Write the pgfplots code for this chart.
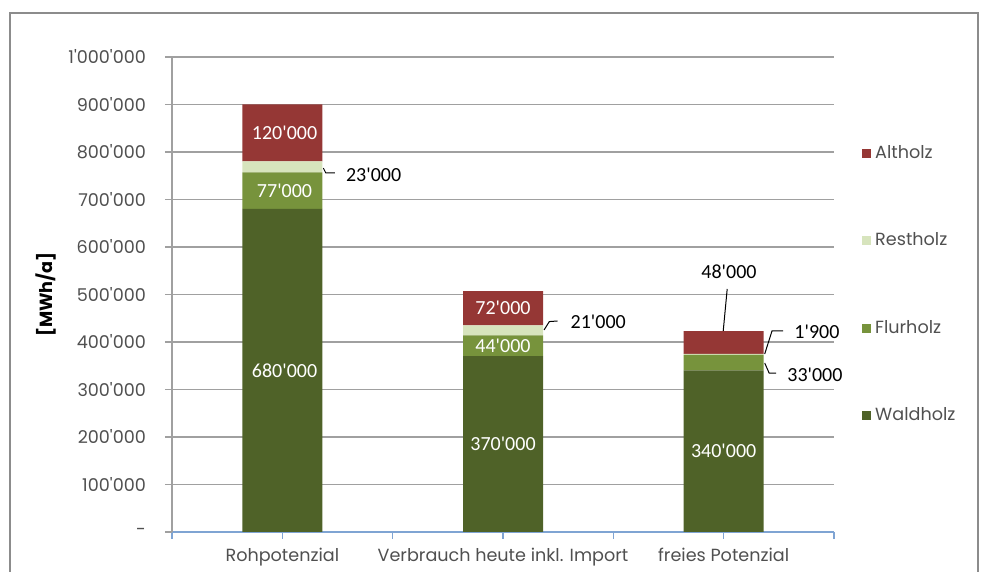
\documentclass[border=0pt]{standalone}
\usepackage{fontspec}
\setmainfont{Poppins}[Ligatures=TeXOff]
\newfontfamily\lblfont{Carlito}[Ligatures=TeXOff]
\usepackage{pgfplots}
\pgfplotsset{compat=1.18}
\definecolor{alt}{HTML}{953735}
\definecolor{rest}{HTML}{D7E4BD}
\definecolor{flur}{HTML}{77933C}
\definecolor{wald}{HTML}{4F6228}
\definecolor{gridgray}{HTML}{A0A0A0}
\definecolor{framegray}{HTML}{8C8C8C}
\definecolor{xblue}{HTML}{7FA4D3}
\definecolor{txtgray}{HTML}{505050}
\newcommand{\tickfont}{\fontsize{8.8}{10}\selectfont}

\begin{document}
\begin{tikzpicture}
\useasboundingbox (0,0) rectangle (490.5pt,286pt);
\draw[framegray, line width=0.6pt] (5pt,-20pt) rectangle (489pt,279.5pt);
\begin{axis}[
  at={(86pt,20pt)}, anchor=south west,
  scale only axis, width=331pt, height=237.5pt,
  xmin=-0.5, xmax=2.5, ymin=0, ymax=1000000,
  ybar stacked, bar width=40pt,
  axis x line*=bottom, axis y line*=left,
  x axis line style={-, draw=xblue, line width=0.8pt},
  y axis line style={-, draw=gridgray, line width=0.7pt},
  tick align=outside, major tick length=3.5pt,
  ytick={0,100000,200000,300000,400000,500000,600000,700000,800000,900000,1000000},
  yticklabels={-,100'000,200'000,300'000,400'000,500'000,600'000,700'000,800'000,900'000,1'000'000},
  scaled y ticks=false,
  ytick style={draw=gridgray, line width=0.7pt},
  yticklabel style={font=\tickfont, text=txtgray, xshift=-6pt},
  ymajorgrids, major grid style={draw=gridgray, line width=0.7pt},
  xtick={-0.5,0.5,1.5,2.5}, xticklabels={,,,},
  xtick style={draw=xblue, line width=0.7pt},
  extra x ticks={0,1,2},
  extra x tick labels={Rohpotenzial,Verbrauch heute inkl. Import,freies Potenzial},
  extra x tick style={tick style={draw=none}, xticklabel style={font=\tickfont, text=txtgray, yshift=-1pt}},
  ylabel={[MWh/a]},
  ylabel style={font=\tickfont\bfseries, text=black, at={(axis description cs:-0.19,0.5)}, anchor=center},
  legend style={at={(axis description cs:1.042,0.824)}, anchor=north west, draw=none, fill=none,
    font=\tickfont, text=txtgray, row sep=31.75pt, inner sep=0pt, cells={anchor=west}},
  legend image code/.code={\fill[#1, draw=none] (0pt,-2.25pt) rectangle (4.5pt,2.25pt);},
  reverse legend,
]
\addplot[fill=wald, draw=none] coordinates {(0,680000) (1,370000) (2,340000)};
\addplot[fill=flur, draw=none] coordinates {(0,77000) (1,44000) (2,33000)};
\addplot[fill=rest, draw=none] coordinates {(0,23000) (1,21000) (2,1900)};
\addplot[fill=alt, draw=none] coordinates {(0,120000) (1,72000) (2,48000)};
\legend{Waldholz,Flurholz,Restholz,Altholz}

% anchor points for the value labels (drawn after the axis, on top of the bars)
\coordinate (w1) at (axis cs:0.01,840000);
\coordinate (w2) at (axis cs:0.01,718500);
\coordinate (w3) at (axis cs:0.01,340000);
\coordinate (w4) at (axis cs:1,471000);
\coordinate (w5) at (axis cs:1,392000);
\coordinate (w6) at (axis cs:1,185000);
\coordinate (w7) at (axis cs:2,170000);
\coordinate (a1) at (axis cs:0.186,766000);
\coordinate (a2) at (axis cs:0.197,755800);
\coordinate (a3) at (axis cs:0.238,755800);
\coordinate (a4) at (axis cs:0.287,751600);
\coordinate (b1) at (axis cs:1.186,425300);
\coordinate (b2) at (axis cs:1.210,443000);
\coordinate (b3) at (axis cs:1.247,444200);
\coordinate (b4) at (axis cs:1.305,442100);
\coordinate (c1) at (axis cs:2.186,374700);
\coordinate (c2) at (axis cs:2.219,423200);
\coordinate (c3) at (axis cs:2.269,423200);
\coordinate (c4) at (axis cs:2.319,421100);
\coordinate (d1) at (axis cs:2.186,355800);
\coordinate (d2) at (axis cs:2.206,334700);
\coordinate (d3) at (axis cs:2.238,334700);
\coordinate (d4) at (axis cs:2.287,330500);
\coordinate (e1) at (axis cs:1.998,423200);
\coordinate (e2) at (axis cs:2.016,511600);
\coordinate (e3) at (axis cs:2.024,547400);
\end{axis}
\tikzset{wl/.style={font=\lblfont\fontsize{10}{12}\selectfont, text=white, inner sep=0pt},
         bl/.style={font=\lblfont\fontsize{10}{12}\selectfont, text=black, inner sep=0pt, anchor=west},
         ld/.style={black, line width=0.5pt}}
\node[wl] at (w1) {120'000};
\node[wl] at (w2) {77'000};
\node[wl] at (w3) {680'000};
\node[wl] at (w4) {72'000};
\node[wl] at (w5) {44'000};
\node[wl] at (w6) {370'000};
\node[wl] at (w7) {340'000};
\draw[ld] (a1) -- (a2) -- (a3);
\node[bl] at (a4) {23'000};
\draw[ld] (b1) -- (b2) -- (b3);
\node[bl] at (b4) {21'000};
\draw[ld] (c1) -- (c2) -- (c3);
\node[bl] at (c4) {1'900};
\draw[ld] (d1) -- (d2) -- (d3);
\node[bl] at (d4) {33'000};
\draw[ld] (e1) -- (e2);
\node[bl, anchor=center] at (e3) {48'000};
\end{tikzpicture}
\end{document}
